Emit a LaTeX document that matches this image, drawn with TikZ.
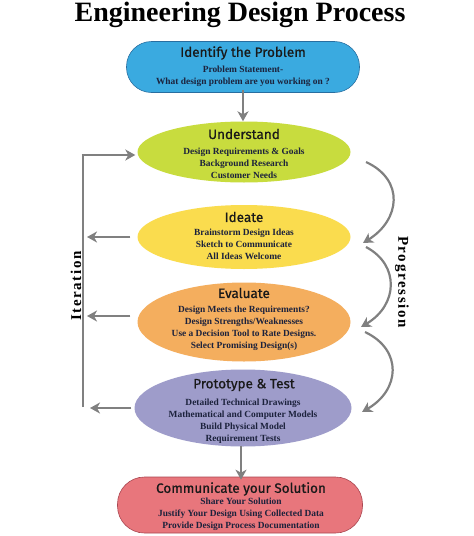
\documentclass[tikz,border=0pt]{standalone}
\usepackage{fontspec}
\setmainfont{Liberation Serif}
\newfontfamily\hdfont[FakeBold=0.8]{Fira Sans}
\newfontfamily\sidefont[LetterSpace=11]{Liberation Serif}
\usetikzlibrary{shapes.geometric,arrows.meta}
\definecolor{cblue}{RGB}{58,170,224}
\definecolor{cblueB}{RGB}{40,110,160}
\definecolor{cgreen}{RGB}{200,220,62}
\definecolor{cyellow}{RGB}{250,220,78}
\definecolor{corange}{RGB}{244,174,94}
\definecolor{cpurple}{RGB}{158,156,202}
\definecolor{cred}{RGB}{232,118,124}
\definecolor{credB}{RGB}{170,70,80}
\definecolor{bodyc}{RGB}{28,34,60}
\definecolor{arrc}{RGB}{128,128,128}
\tikzset{
  ell/.style={ellipse, draw=none, minimum width=213pt},
  pill/.style={rectangle, rounded corners=25pt, line width=0.6pt, minimum height=51pt},
  hd/.style={font=\hdfont\fontsize{13.5}{15}\selectfont, text=black!90, inner sep=0pt},
  body/.style={font=\bfseries\fontsize{9.4}{12}\selectfont, text=bodyc, align=center, inner sep=0pt},
  side/.style={font=\sidefont\bfseries\fontsize{15}{16}\selectfont, inner sep=0pt},
  arr/.style={draw=arrc, line width=2.6pt, -{Stealth[length=10pt,width=11pt,inset=3pt]}},
  ln/.style={draw=arrc, line width=2.6pt}
}
\begin{document}
\begin{tikzpicture}[x=1pt,y=-1pt]
\useasboundingbox[fill=white] (0,0) rectangle (474,536);
\node[font=\bfseries\fontsize{28}{30}\selectfont] (title) at (240,15) {Engineering Design Process};
% shapes
\node[pill, fill=cblue, draw=cblueB, minimum width=233pt] (idf) at (243,67) {};
\node[ell, fill=cgreen, minimum height=61pt] (und) at (244,152) {};
\node[ell, fill=cyellow, minimum height=64pt] (ide) at (244,237) {};
\node[ell, fill=corange, minimum height=79pt] (eva) at (244,322) {};
\node[ell, fill=cpurple, minimum height=77pt, minimum width=217pt] (pro) at (243,408) {};
\node[pill, fill=cred, draw=credB, minimum width=245pt, minimum height=56pt, rounded corners=27pt] (com) at (240,505) {};
% texts
\node[hd] (idfh) at (243,53) {Identify the Problem};
\node[body] (idfb) at (243,76) {Problem Statement-\\What design problem are you working on ?};
\node[hd] (undh) at (244,134) {Understand};
\node[body] (undb) at (244,163) {Design Requirements \& Goals\\Background Research\\Customer Needs};
\node[hd] (ideh) at (244,217) {Ideate};
\node[body] (ideb) at (244,244) {Brainstorm Design Ideas\\Sketch to Communicate\\All Ideas Welcome};
\node[hd] (evah) at (244,293) {Evaluate};
\node[body] (evab) at (244,328) {Design Meets the Requirements?\\Design Strengths/Weaknesses\\Use a Decision Tool to Rate Designs.\\Select Promising Design(s)};
\node[hd] (proh) at (244,385) {Prototype \& Test};
\node[body] (prob) at (243,421) {Detailed Technical Drawings\\Mathematical and Computer Models\\Build Physical Model\\Requirement Tests};
\node[hd] (comh) at (241,489) {Communicate your Solution};
\node[body] (comb) at (241,514) {Share Your Solution\\Justify Your Design Using Collected Data\\Provide Design Process Documentation};
% down arrows
\draw[arr] ([yshift=3pt]idf.south -| 243,0) -- (und.north -| 243,0);
\draw[arr] ([yshift=1pt]pro.south -| 241,0) -- ([yshift=-3pt]com.north -| 241,0);
% iteration
\coordinate (itb) at (83,407);
\coordinate (itt) at (83,155);
\draw[ln] (itb) -- ([yshift=-1.3pt]itt);
\draw[arr] ([xshift=-1.3pt]itt) -- ([xshift=-2pt]itt -| und.west);
\draw[arr] ([xshift=-7pt]ide.west) -- ([xshift=4pt]ide.west -| itb);
\draw[arr] ([xshift=-7pt,yshift=6pt]eva.west) -- ([xshift=4pt,yshift=6pt]eva.west -| itb);
\draw[arr] ([xshift=-3pt]pro.west) -- ([xshift=7pt]pro.west -| itb);
\node[side, rotate=90] (itl) at (76,286) {Iteration};
% progression
\coordinate (p1) at (366,162);
\coordinate (p2) at (363,243);
\coordinate (p3) at (366,247);
\coordinate (p4) at (361,327);
\coordinate (p5) at (365,332);
\coordinate (p6) at (362,412);
\draw[arr, line width=2.2pt] (p1) .. controls (405,180) and (400,220) .. (p2);
\draw[arr, line width=2.2pt] (p3) .. controls (400,265) and (398,305) .. (p4);
\draw[arr, line width=2.2pt] (p5) .. controls (403,350) and (400,390) .. (p6);
\node[side, rotate=-90] (prl) at (402,282) {Progression};
\end{tikzpicture}
\end{document}
